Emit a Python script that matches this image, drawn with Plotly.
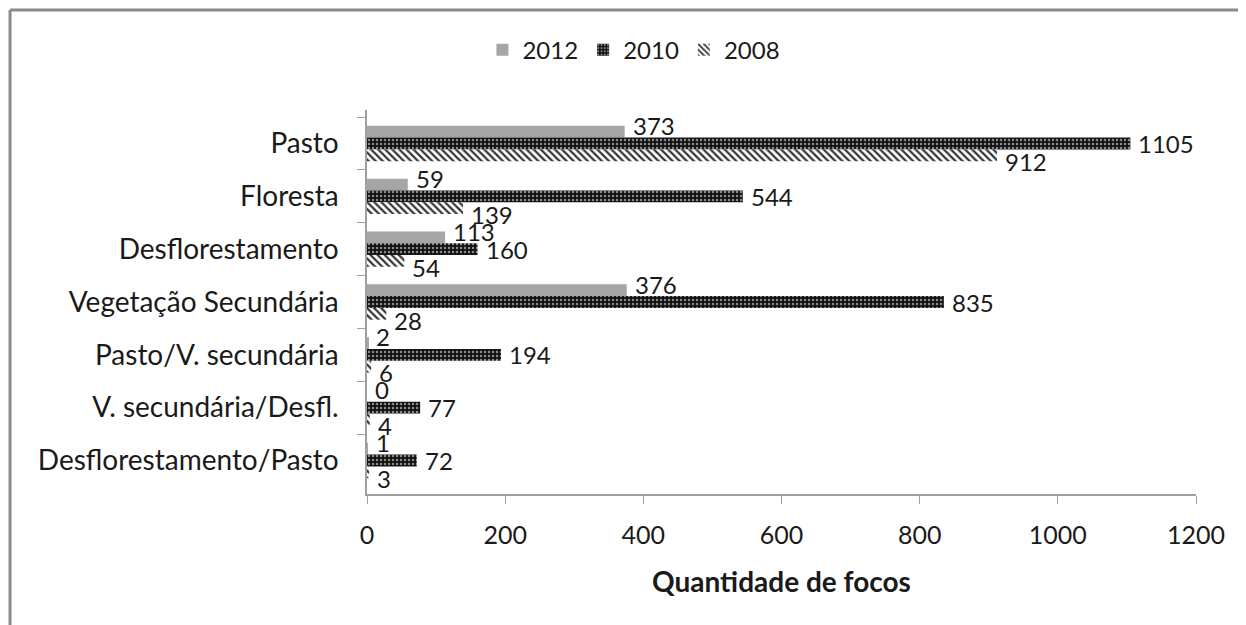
import plotly.graph_objects as go

categories = ["Pasto", "Floresta", "Desflorestamento", "Vegetação Secundária",
              "Pasto/V. secundária", "V. secundária/Desfl.", "Desflorestamento/Pasto"]
v2012 = [373, 59, 113, 376, 2, 0, 1]
v2010 = [1105, 544, 160, 835, 194, 77, 72]
v2008 = [912, 139, 54, 28, 6, 4, 3]
x_ticks = [0, 200, 400, 600, 800, 1000, 1200]

FONT = "Lato"
INK = "#1a1a1a"
NUM = dict(family=FONT, size=24, color=INK)

fig = go.Figure()
fig.add_trace(go.Bar(
    name="2012", y=categories, x=v2012, orientation="h",
    marker=dict(color="#a6a6a6", line=dict(width=0)),
))
fig.add_trace(go.Bar(
    name="2010", y=categories, x=v2010, orientation="h",
    marker=dict(color="#111111", line=dict(width=0),
                pattern=dict(shape=".", fgcolor="#8a8a8a", bgcolor="#111111",
                             size=4, solidity=0.3, fillmode="replace")),
))
fig.add_trace(go.Bar(
    name="2008", y=categories, x=v2008, orientation="h",
    marker=dict(color="#ffffff", line=dict(width=0),
                pattern=dict(shape="\\", fgcolor="#333333", bgcolor="#ffffff",
                             size=5, solidity=0.45, fillmode="replace")),
))

# data labels, placed through the axes (value, category) with a per-series style shift
annotations = []
for values, yshift in ((v2012, 18), (v2010, 0), (v2008, -18)):
    for cat, val in zip(categories, values):
        annotations.append(dict(
            x=val, y=cat, xref="x", yref="y", text=str(val), showarrow=False,
            xanchor="left", yanchor="middle", xshift=7, yshift=yshift, font=NUM,
            borderpad=0,
        ))

fig.update_layout(
    width=1238, height=617,
    margin=dict(l=359, r=50, t=102, b=131),
    paper_bgcolor="white", plot_bgcolor="white",
    barmode="group", bargap=0.33, bargroupgap=0,
    font=dict(family=FONT, size=25, color=INK),
    showlegend=True,
    legend=dict(orientation="h", x=0.322, xanchor="center", y=1.156, yanchor="middle",
                font=dict(family=FONT, size=24, color=INK),
                traceorder="normal", itemwidth=30, bgcolor="rgba(0,0,0,0)"),
    xaxis=dict(range=[0, 1200], tickvals=x_ticks, ticktext=[str(t) for t in x_ticks],
               showgrid=False, zeroline=False, showline=True, linecolor="#a0a0a0",
               linewidth=1.5, ticks="outside", ticklen=8, tickcolor="#a0a0a0",
               ticklabelstandoff=10,
               tickfont=dict(family=FONT, size=25, color=INK),
               title=dict(text="<b>Quantidade de focos</b>", standoff=25,
                          font=dict(family=FONT, size=28, color=INK))),
    yaxis=dict(autorange="reversed", categoryorder="array", categoryarray=categories,
               showgrid=False, zeroline=False, showline=True, linecolor="#a0a0a0",
               linewidth=1.5, ticks="outside", ticklen=8, tickcolor="#a0a0a0",
               tickson="boundaries", ticklabelstandoff=21,
               tickfont=dict(family=FONT, size=28, color=INK)),
    annotations=annotations,
    shapes=[
        dict(type="line", xref="paper", yref="paper", x0=-0.4306, x1=-0.4306,
             y0=1.2604, y1=-0.36, line=dict(color="#8a8a8a", width=3)),
        dict(type="line", xref="paper", yref="paper", x0=-0.4306, x1=1.07,
             y0=1.2604, y1=1.2604, line=dict(color="#8a8a8a", width=3)),
    ],
)

fig.write_html("out.html")
